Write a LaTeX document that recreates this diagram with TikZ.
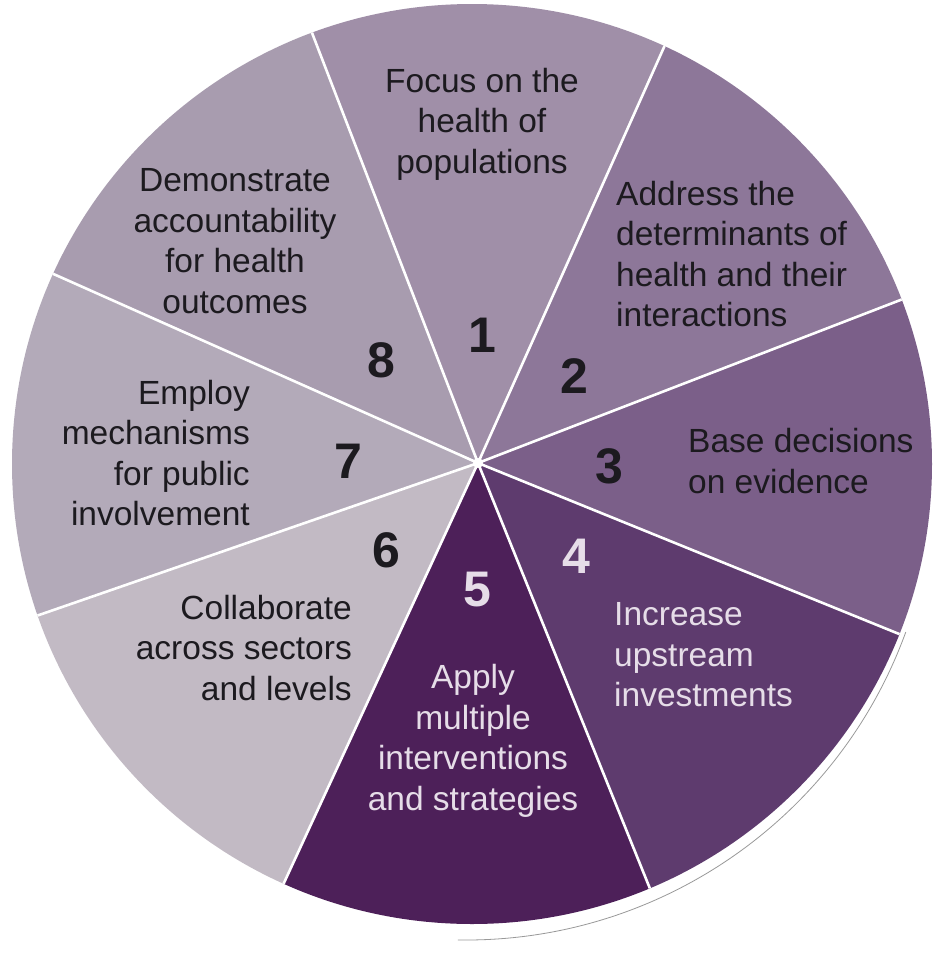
\documentclass[tikz,border=0pt]{standalone}
\usepackage{fontspec}
\setmainfont{Liberation Sans}
\definecolor{cOne}{HTML}{A08FA8}
\definecolor{cTwo}{HTML}{8D7799}
\definecolor{cThree}{HTML}{7B5F89}
\definecolor{cFour}{HTML}{5E3B6E}
\definecolor{cFive}{HTML}{4D2059}
\definecolor{cSix}{HTML}{C2BAC4}
\definecolor{cSeven}{HTML}{B3AAB9}
\definecolor{cEight}{HTML}{A89CAF}
\definecolor{txtdark}{HTML}{1C1A1F}
\definecolor{txtlight}{HTML}{E6DDE8}
\newcommand\pieslice[3]{\fill[#3] (0,0) -- (#1:900) -- ({(#1+#2)/2}:900) -- (#2:900) -- cycle;}
\begin{document}
\begin{tikzpicture}[x=1pt,y=1pt,
  lbl/.style={inner sep=0pt, font=\fontsize{33.5}{40.5}\selectfont, text=txtdark},
  num/.style={inner sep=0pt, font=\fontsize{50}{50}\selectfont\bfseries, text=txtdark},
  sepline/.style={draw=white, line width=2.6pt},
  rim/.style={draw=black!40, line width=0.8pt}]
\useasboundingbox[fill=white] (0,0) rectangle (949,-970);
% faint page edge behind the disc
\draw[rim] (466,-472) ++(-20:468) arc[start angle=-20, end angle=-91, radius=468];
\begin{scope}
  \clip (472,-464) circle[radius=460];
  \begin{scope}[shift={(478,-463)}]
    \pieslice{65.9}{111.1}{cOne}
    \pieslice{21.1}{65.9}{cTwo}
    \pieslice{-22.1}{21.1}{cThree}
    \pieslice{-68.0}{-22.1}{cFour}
    \pieslice{-114.8}{-68.0}{cFive}
    \pieslice{-160.9}{-114.8}{cSix}
    \pieslice{156.0}{199.1}{cSeven}
    \pieslice{111.1}{156.0}{cEight}
    \foreach \a in {111.1,65.9,21.1,-22.1,-68.0,-114.8,-160.9,156.0}
      \draw[sepline] (0,0) -- (\a:700);
    \fill[white] (0,0) circle[radius=5];
  \end{scope}
\end{scope}
% labels
\node[lbl, align=center] (t1) at (482,-124) {Focus on the\\health of\\populations};
\node[lbl, align=left, anchor=west] (t2) at (616,-254) {Address the\\determinants of\\health and their\\interactions};
\node[lbl, align=left, anchor=west] (t3) at (688,-461) {Base decisions\\on evidence};
\node[lbl, align=left, anchor=west, text=txtlight] (t4) at (614,-655) {Increase\\upstream\\investments};
\node[lbl, align=center, text=txtlight] (t5) at (473,-741) {Apply\\multiple\\interventions\\and strategies};
\node[lbl, align=right, anchor=east] (t6) at (352,-648) {Collaborate\\across sectors\\and levels};
\node[lbl, align=right, anchor=east] (t7) at (250,-453) {Employ\\mechanisms\\for public\\involvement};
\node[lbl, align=center] (t8) at (235,-241) {Demonstrate\\accountability\\for health\\outcomes};
% numbers
\node[num] (n1) at (482,-335) {1};
\node[num] (n2) at (574,-376) {2};
\node[num] (n3) at (609,-466) {3};
\node[num, text=txtlight] (n4) at (576,-556) {4};
\node[num, text=txtlight] (n5) at (477,-590) {5};
\node[num] (n6) at (386,-550) {6};
\node[num] (n7) at (348,-461) {7};
\node[num] (n8) at (381,-360) {8};
\end{tikzpicture}
\end{document}
